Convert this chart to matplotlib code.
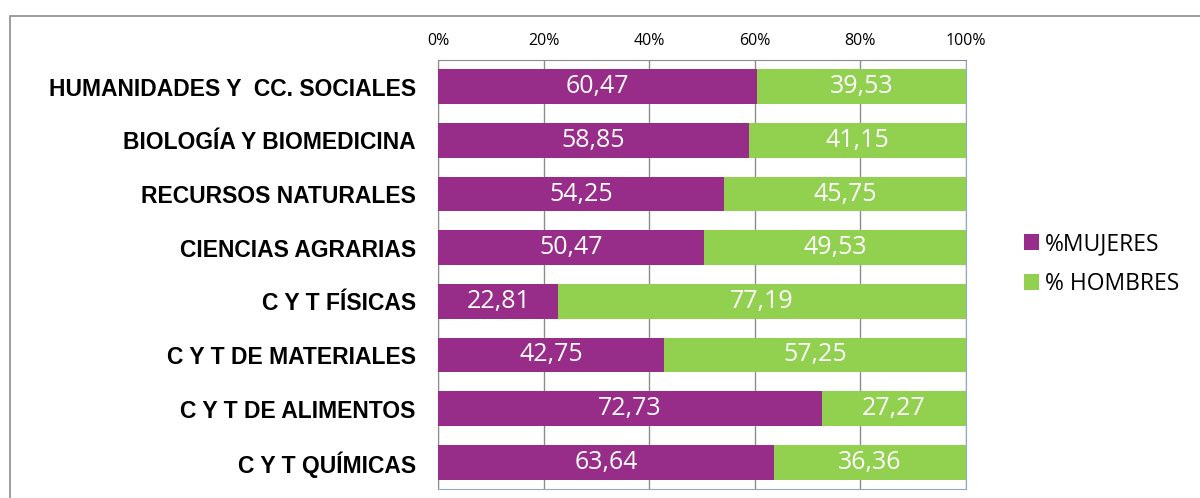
import numpy as np
import matplotlib.pyplot as plt
from matplotlib.patches import Rectangle

categorias = ["HUMANIDADES Y  CC. SOCIALES", "BIOLOGÍA Y BIOMEDICINA",
              "RECURSOS NATURALES", "CIENCIAS AGRARIAS", "C Y T FÍSICAS",
              "C Y T DE MATERIALES", "C Y T DE ALIMENTOS", "C Y T QUÍMICAS"]
mujeres = [60.47, 58.85, 54.25, 50.47, 22.81, 42.75, 72.73, 63.64]
hombres = [39.53, 41.15, 45.75, 49.53, 77.19, 57.25, 27.27, 36.36]
ticks = [0, 20, 40, 60, 80, 100]

c_muj = "#982D89"
c_hom = "#92D050"

fig = plt.figure(figsize=(12, 4.98), dpi=100)
ax = fig.add_axes([438/1200, 9/498, 528/1200, 429/498])

y = np.arange(len(categorias))
b1 = ax.barh(y, mujeres, height=0.65, color=c_muj, label="%MUJERES", zorder=3)
b2 = ax.barh(y, hombres, left=mujeres, height=0.65, color=c_hom, label="% HOMBRES", zorder=3)

for i in range(len(categorias)):
    ax.text(mujeres[i] / 2, y[i], f"{mujeres[i]:.2f}".replace(".", ","),
            ha="center", va="center", color="white", fontsize=18,
            family="Open Sans", zorder=4)
    ax.text(mujeres[i] + hombres[i] / 2, y[i], f"{hombres[i]:.2f}".replace(".", ","),
            ha="center", va="center", color="white", fontsize=18,
            family="Open Sans", zorder=4)

ax.set_xlim(0, 100)
ax.set_ylim(len(categorias) - 0.5, -0.5)
ax.set_xticks(ticks)
ax.set_xticklabels([f"{t}%" for t in ticks], family="Open Sans", fontsize=11.5)
ax.xaxis.tick_top()
ax.tick_params(axis="x", length=0, pad=8)
ax.set_yticks(y)
ax.set_yticklabels(categorias, fontweight="bold", family="Liberation Sans", fontsize=16.5)
ax.tick_params(axis="y", length=0, pad=16)
ax.grid(axis="x", color="#8c8c8c", linewidth=1, zorder=0)
for s in ["left", "top"]:
    ax.spines[s].set_color("#8c8c8c")
for s in ["right", "bottom"]:
    ax.spines[s].set_color("#8fa8cc")

leg = fig.legend(handles=[b1, b2], loc="center left", bbox_to_anchor=(1013/1200, 1 - 264/498),
                 frameon=False, prop={"family": "Open Sans", "size": 16.5}, borderpad=0,
                 handlelength=0.65, handleheight=0.65, handletextpad=0.25, labelspacing=0.7)

fig.patches.append(Rectangle((10/1200, -0.1), 1.2, 0.1 + (498 - 16)/498,
                             transform=fig.transFigure, fill=False,
                             edgecolor="#8c8c8c", linewidth=1.2))

fig.savefig("out.png", dpi=100)
